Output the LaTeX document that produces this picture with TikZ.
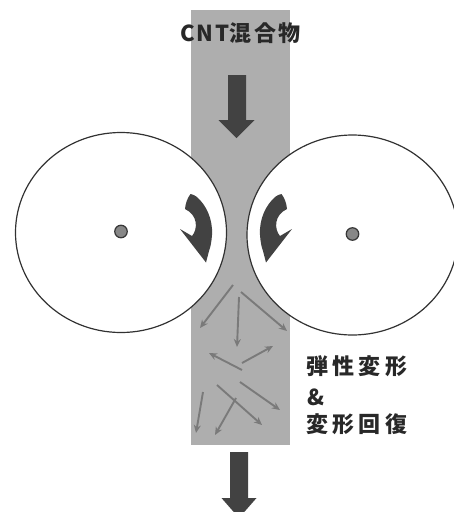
\documentclass[tikz,border=0pt]{standalone}
\usepackage{fontspec}
\usetikzlibrary{arrows.meta}
\newfontfamily\cjklatin{Noto Sans CJK JP}[LetterSpace=9]
\newfontfamily\cjktop{Noto Sans CJK JP}[LetterSpace=11]
\newfontfamily\cjkside{Noto Sans CJK JP}[LetterSpace=20]
\definecolor{bandcol}{RGB}{174,174,174}
\definecolor{arrowdark}{RGB}{66,66,66}
\definecolor{fibercol}{RGB}{122,122,122}
\definecolor{rollline}{RGB}{50,50,50}
\definecolor{hubfill}{RGB}{135,135,135}
\definecolor{hubline}{RGB}{55,55,55}
\definecolor{textcol}{RGB}{40,40,40}
\begin{document}
\begin{tikzpicture}[x=1pt,y=-1pt,
  roll/.style={draw=rollline, line width=1.2pt, fill=white},
  hub/.style={circle, draw=hubline, line width=1.2pt, fill=hubfill, minimum size=12.5pt, inner sep=0pt},
  bigarrow/.style={fill=arrowdark},
  fiber/.style={draw=fibercol, line width=1.9pt, -{Stealth[length=8pt,width=7pt]}},
  lbl/.style={text=textcol, inner sep=0pt}]
\useasboundingbox (0,0) rectangle (454,512);
\clip (0,0) rectangle (454,512);
% feed band
\fill[bandcol] (190.5,10) rectangle (289.5,445);
% rolls
\draw[roll] (121,232.5) ellipse [x radius=105.5, y radius=100];
\draw[roll] (352.5,235) ellipse [x radius=105.5, y radius=100];
\node[hub] (hubL) at (121,231.5) {};
\node[hub] (hubR) at (352.5,234) {};
% rotation arrows
\fill[bigarrow] (190.5,194) .. controls (193,194.5) and (195,195.5) .. (197,197)
  .. controls (206,205) and (213,219) .. (212,235)
  .. controls (211.5,242) and (210.5,247) .. (209,251) -- (206,262.5) -- (180,229) -- (192,236)
  .. controls (198,229) and (198,215) .. (185,209)
  .. controls (185.5,203) and (187.5,198) .. cycle;
\begin{scope}[xshift=472pt, xscale=-1]
\fill[bigarrow] (190.5,194) .. controls (193,194.5) and (195,195.5) .. (197,197)
  .. controls (206,205) and (213,219) .. (212,235)
  .. controls (211.5,242) and (210.5,247) .. (209,251) -- (206,262.5) -- (180,229) -- (192,236)
  .. controls (198,229) and (198,215) .. (185,209)
  .. controls (185.5,203) and (187.5,198) .. cycle;
\end{scope}
% feed arrows
\fill[bigarrow] (228,75) -- (246,75) -- (246,120) -- (254.5,120) -- (236.5,138) -- (218.5,120) -- (228,120) -- cycle;
\fill[bigarrow] (230,452) -- (248,452) -- (248,498) -- (256.5,498) -- (239,518) -- (221.5,498) -- (230,498) -- cycle;
% CNT fibres
\draw[fiber] (233,285) -- (200,328);
\draw[fiber] (239,297) -- (237,347);
\draw[fiber] (241,292) -- (287,331);
\draw[fiber] (242,370) -- (209,353);
\draw[fiber] (242,363) -- (273,346);
\draw[fiber] (217,385) -- (262,425);
\draw[fiber] (240,382) -- (280,410);
\draw[fiber] (203,392) -- (196,433);
\draw[fiber] (236,398) -- (215,435);
% labels
\node[lbl, anchor=west, font=\bfseries\fontsize{22}{24}\selectfont] (title) at (180,33) {\cjklatin\bfseries CNT\cjktop\bfseries 混合物};
\node[lbl, anchor=west, font=\cjkside\bfseries\fontsize{22}{24}\selectfont] (l1) at (306,366.5) {弾性変形};
\node[lbl, anchor=west, font=\cjkside\bfseries\fontsize{22}{24}\selectfont] (l2) at (307,397) {\&};
\node[lbl, anchor=west, font=\cjkside\bfseries\fontsize{22}{24}\selectfont] (l3) at (306,424) {変形回復};
\end{tikzpicture}
\end{document}
